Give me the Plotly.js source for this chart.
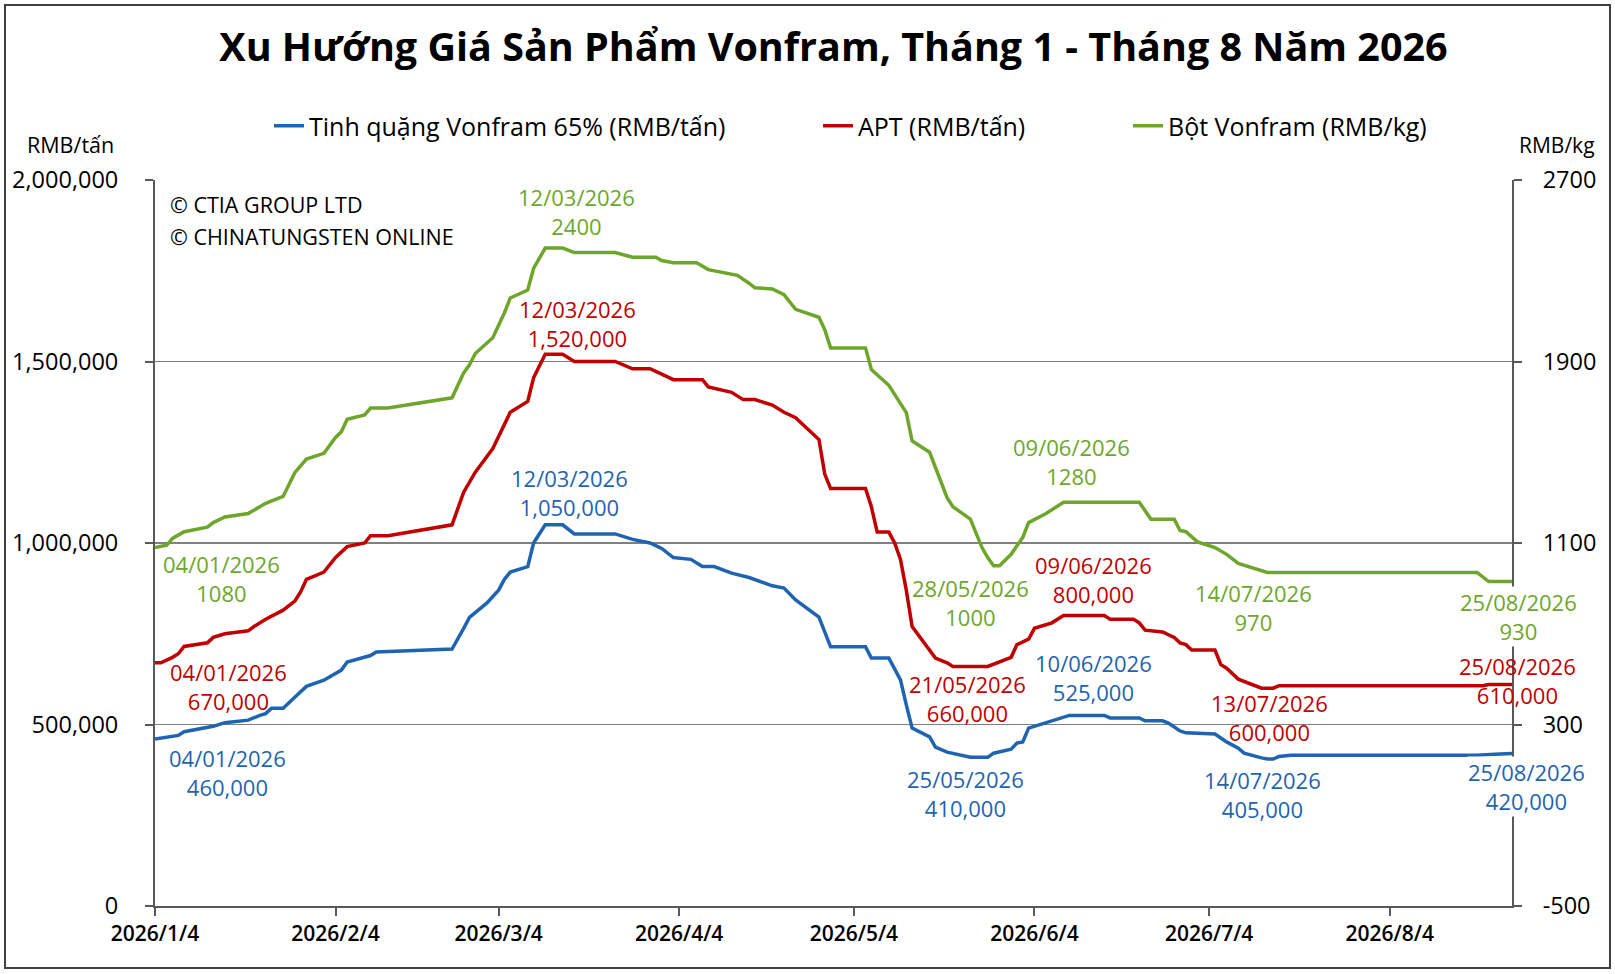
<!DOCTYPE html>
<html>
<head>
<meta charset="utf-8">
<script src="https://cdn.plot.ly/plotly-3.0.1.min.js"></script>
<style>
  html, body { margin: 0; padding: 0; background: #fff; }
  #wrap { position: relative; width: 1615px; height: 974px; }
  #chart { width: 1615px; height: 974px; }
  #frame {
    position: absolute; left: 4px; top: 4px; width: 1603px; height: 961px;
    border: 2px solid #404040; pointer-events: none;
  }
</style>
</head>
<body>
<div id="wrap">
  <div id="chart"></div>
  <div id="frame"></div>
</div>
<script>
// Tinh quặng Vonfram 65% (RMB/tấn)
const oreDates = [
  "2026-01-04","2026-01-06","2026-01-08","2026-01-09","2026-01-12","2026-01-14","2026-01-16","2026-01-20",
  "2026-01-22","2026-01-23","2026-01-24","2026-01-26","2026-01-28","2026-01-30","2026-02-02","2026-02-05",
  "2026-02-06","2026-02-10","2026-02-11","2026-02-24","2026-02-26","2026-02-27","2026-03-02","2026-03-04",
  "2026-03-05","2026-03-06","2026-03-09","2026-03-10","2026-03-12","2026-03-15","2026-03-17","2026-03-24",
  "2026-03-27","2026-03-30","2026-04-01","2026-04-03","2026-04-06","2026-04-08","2026-04-10","2026-04-13",
  "2026-04-16","2026-04-18","2026-04-20","2026-04-22","2026-04-24","2026-04-28","2026-04-30","2026-05-06",
  "2026-05-07","2026-05-10","2026-05-12","2026-05-13","2026-05-14","2026-05-17","2026-05-18","2026-05-20",
  "2026-05-24","2026-05-25","2026-05-27","2026-05-28","2026-05-31","2026-06-01","2026-06-02","2026-06-03",
  "2026-06-06","2026-06-10","2026-06-16","2026-06-17","2026-06-22","2026-06-23","2026-06-26","2026-06-27",
  "2026-06-29","2026-06-30","2026-07-05","2026-07-07","2026-07-09","2026-07-10","2026-07-13","2026-07-14",
  "2026-07-15","2026-07-16","2026-07-18","2026-08-19","2026-08-22","2026-08-25"
];
const oreValues = [
  460000,465000,470000,480000,490000,495000,505000,512000,
  525000,530000,545000,545000,575000,605000,622000,650000,
  672000,690000,700000,708000,765000,795000,835000,870000,
  900000,920000,935000,1000000,1050000,1050000,1025000,1025000,
  1010000,1000000,985000,960000,955000,935000,935000,917000,
  905000,893000,882000,876000,843000,796000,714000,714000,
  683000,683000,623000,554000,490000,466000,438000,424000,
  410000,410000,410000,421000,432000,449000,452000,490000,
  504000,525000,525000,518000,518000,510000,510000,504000,
  482000,477000,474000,452000,435000,421000,408000,405000,
  405000,412000,415000,415000,418000,420000
];

// APT (RMB/tấn)
const aptDates = [
  "2026-01-04","2026-01-05","2026-01-07","2026-01-08","2026-01-09","2026-01-13","2026-01-14","2026-01-16",
  "2026-01-20","2026-01-21","2026-01-23","2026-01-26","2026-01-28","2026-01-29","2026-01-30","2026-02-02",
  "2026-02-04","2026-02-06","2026-02-09","2026-02-10","2026-02-13","2026-02-24","2026-02-26","2026-02-28",
  "2026-03-03","2026-03-05","2026-03-06","2026-03-09","2026-03-10","2026-03-12","2026-03-15","2026-03-17",
  "2026-03-24","2026-03-27","2026-03-30","2026-04-01","2026-04-03","2026-04-08","2026-04-09","2026-04-13",
  "2026-04-15","2026-04-17","2026-04-20","2026-04-22","2026-04-24","2026-04-28","2026-04-29","2026-04-30",
  "2026-05-06","2026-05-07","2026-05-08","2026-05-10","2026-05-11","2026-05-12","2026-05-13","2026-05-14",
  "2026-05-16","2026-05-18","2026-05-20","2026-05-21","2026-05-27","2026-05-31","2026-06-01","2026-06-03",
  "2026-06-04","2026-06-07","2026-06-09","2026-06-16","2026-06-17","2026-06-21","2026-06-22","2026-06-23",
  "2026-06-26","2026-06-28","2026-06-29","2026-06-30","2026-07-01","2026-07-05","2026-07-06","2026-07-07",
  "2026-07-09","2026-07-12","2026-07-13","2026-07-15","2026-07-16","2026-08-20","2026-08-21","2026-08-25"
];
const aptValues = [
  670000,670000,685000,695000,715000,725000,740000,750000,
  758000,770000,790000,815000,840000,865000,900000,920000,
  960000,990000,1000000,1020000,1020000,1050000,1140000,1195000,
  1260000,1330000,1360000,1390000,1455000,1520000,1520000,1500000,
  1500000,1480000,1480000,1465000,1450000,1450000,1430000,1415000,
  1395000,1395000,1380000,1360000,1345000,1285000,1190000,1150000,
  1150000,1100000,1030000,1030000,1000000,955000,870000,770000,
  725000,683000,670000,660000,660000,685000,720000,735000,
  765000,780000,800000,800000,790000,790000,780000,760000,
  755000,740000,725000,720000,705000,705000,665000,655000,
  625000,605000,600000,600000,607000,607000,610000,610000
];

// Bột Vonfram (RMB/kg)
const powderDates = [
  "2026-01-04","2026-01-06","2026-01-07","2026-01-09","2026-01-13","2026-01-14","2026-01-16","2026-01-20",
  "2026-01-22","2026-01-23","2026-01-26","2026-01-28","2026-01-30","2026-02-02","2026-02-04","2026-02-05",
  "2026-02-06","2026-02-09","2026-02-10","2026-02-13","2026-02-24","2026-02-26","2026-02-27","2026-02-28",
  "2026-03-03","2026-03-05","2026-03-06","2026-03-09","2026-03-10","2026-03-12","2026-03-15","2026-03-17",
  "2026-03-24","2026-03-27","2026-03-31","2026-04-01","2026-04-03","2026-04-07","2026-04-09","2026-04-14",
  "2026-04-16","2026-04-17","2026-04-20","2026-04-22","2026-04-24","2026-04-28","2026-04-29","2026-04-30",
  "2026-05-06","2026-05-07","2026-05-10","2026-05-13","2026-05-14","2026-05-17","2026-05-20","2026-05-21",
  "2026-05-24","2026-05-26","2026-05-27","2026-05-28","2026-05-29","2026-05-31","2026-06-02","2026-06-03",
  "2026-06-06","2026-06-09","2026-06-22","2026-06-24","2026-06-28","2026-06-29","2026-06-30","2026-07-02",
  "2026-07-05","2026-07-07","2026-07-09","2026-07-14","2026-08-19","2026-08-21","2026-08-25"
];
const powderValues = [
  1080,1090,1120,1150,1170,1190,1215,1230,
  1260,1275,1305,1410,1470,1495,1565,1590,
  1645,1665,1695,1695,1740,1850,1885,1935,
  2005,2115,2180,2215,2310,2400,2400,2380,
  2380,2360,2360,2345,2335,2335,2305,2280,
  2245,2225,2220,2195,2130,2095,2040,1960,
  1960,1865,1795,1675,1550,1500,1300,1260,
  1205,1080,1035,1000,1000,1050,1125,1190,
  1230,1280,1280,1205,1205,1155,1150,1105,
  1080,1050,1010,970,970,930,930
];

const xTickVals = ["2026-01-04","2026-02-04","2026-03-04","2026-04-04","2026-05-04","2026-06-04","2026-07-04","2026-08-04"];
const xTickText = ["2026/1/4","2026/2/4","2026/3/4","2026/4/4","2026/5/4","2026/6/4","2026/7/4","2026/8/4"];
const leftTicks = [0, 500000, 1000000, 1500000, 2000000];
const rightTicks = [-500, 300, 1100, 1900, 2700];
const rightTickText = ["-500", "300", "1100", "1900", "2700"];

// ngày được ghi nhãn trên từng đường
const oreLabelDates = ["2026-01-04","2026-03-12","2026-05-25","2026-06-10","2026-07-14","2026-08-25"];
const aptLabelDates = ["2026-01-04","2026-03-12","2026-05-21","2026-06-09","2026-07-13","2026-08-25"];
const powderLabelDates = ["2026-01-04","2026-03-12","2026-05-28","2026-06-09","2026-07-14","2026-08-25"];

const BLUE = "#1f64b0";
const RED = "#c00000";
const GREEN = "#6ea62c";
const TEXT_FONT = "Open Sans, Noto Sans, sans-serif";

// độ lệch (px) của nhãn so với điểm dữ liệu, cùng thứ tự với *LabelDates
const oreShift = [[72,-33],[24,32],[-11,-36],[24,38],[-5,-36],[14,-33]];
const aptShift = [[73,-24],[32,31],[15,-32],[30,36],[8,-29],[5,4]];
const powderShift = [[66,-31],[31,37],[-23,-37],[8,41],[-14,-35],[6,-35]];
// nhãn cuối đè lên trục phải -> nền trắng (trừ APT vì nằm ngay trên đường)
const whiteBg = { ore: true, apt: false, powder: true };

function fmtDate(d) {
  const [y, m, day] = d.split("-");
  return `${day}/${m}/${y}`;
}

function buildLabels(dates, values, labelDates, shifts, color, yref, withComma, lastBg) {
  return labelDates.map((d, i) => {
    const v = values[dates.indexOf(d)];
    const txt = withComma ? v.toLocaleString("en-US") : String(v);
    const isLast = i === labelDates.length - 1;
    return {
      x: d, y: v, xref: "x", yref: yref,
      text: `${fmtDate(d)}<br>${txt}`,
      showarrow: false,
      xanchor: "center", yanchor: "middle",
      xshift: shifts[i][0], yshift: shifts[i][1],
      font: { family: TEXT_FONT, size: 22, color: color },
      bgcolor: isLast && lastBg ? "#fff" : "rgba(255,255,255,0)",
      borderpad: 0,
    };
  });
}

const traces = [
  {
    type: "scatter", mode: "lines", name: "Tinh quặng Vonfram 65% (RMB/tấn)",
    x: oreDates, y: oreValues, yaxis: "y", legend: "legend",
    line: { color: BLUE, width: 3.5 }, hoverinfo: "skip",
  },
  {
    type: "scatter", mode: "lines", name: "APT (RMB/tấn)",
    x: aptDates, y: aptValues, yaxis: "y", legend: "legend2",
    line: { color: RED, width: 3.5 }, hoverinfo: "skip",
  },
  {
    type: "scatter", mode: "lines", name: "Bột Vonfram (RMB/kg)",
    x: powderDates, y: powderValues, yaxis: "y2", legend: "legend3",
    line: { color: GREEN, width: 3.5 }, hoverinfo: "skip",
  },
];

const plotW = 1615 - 155 - 103;
const plotH = 974 - 180 - 68;
const px = p => (p - 155) / plotW;
const py = p => (906 - p) / plotH;

function legendAt(xPix) {
  return {
    orientation: "h", x: px(xPix), y: py(126), xanchor: "left", yanchor: "middle",
    bgcolor: "rgba(0,0,0,0)", borderwidth: 0,
    font: { family: TEXT_FONT, size: 25, color: "#000" },
  };
}

const annotations = [
  ...buildLabels(oreDates, oreValues, oreLabelDates, oreShift, BLUE, "y", true, whiteBg.ore),
  ...buildLabels(aptDates, aptValues, aptLabelDates, aptShift, RED, "y", true, whiteBg.apt),
  ...buildLabels(powderDates, powderValues, powderLabelDates, powderShift, GREEN, "y2", false, whiteBg.powder),
  {
    text: "RMB/tấn", xref: "paper", yref: "paper", x: px(70), y: py(145),
    showarrow: false, xanchor: "center", yanchor: "middle",
    font: { family: TEXT_FONT, size: 21.5, color: "#000" },
  },
  {
    text: "RMB/kg", xref: "paper", yref: "paper", x: px(1557), y: py(145),
    showarrow: false, xanchor: "center", yanchor: "middle",
    font: { family: TEXT_FONT, size: 21, color: "#000" },
  },
  {
    text: "© CTIA GROUP LTD", xref: "paper", yref: "paper", x: px(168), y: py(205),
    showarrow: false, xanchor: "left", yanchor: "middle",
    font: { family: TEXT_FONT, size: 21.5, color: "#000" },
  },
  {
    text: "© CHINATUNGSTEN ONLINE", xref: "paper", yref: "paper", x: px(168), y: py(237),
    showarrow: false, xanchor: "left", yanchor: "middle",
    font: { family: TEXT_FONT, size: 21.5, color: "#000" },
  },
];

const axisColor = "#595959";

const layout = {
  width: 1615,
  height: 974,
  margin: { l: 155, r: 103, t: 180, b: 68 },
  paper_bgcolor: "#fff",
  plot_bgcolor: "#fff",
  showlegend: true,
  title: {
    text: "<b>Xu Hướng Giá Sản Phẩm Vonfram, Tháng 1 - Tháng 8 Năm 2026</b>",
    font: { family: TEXT_FONT, size: 39.5, color: "#000" },
    xref: "paper", x: 0.5, xanchor: "center",
    yref: "container", y: 1 - 47 / 974, yanchor: "middle",
  },
  xaxis: {
    type: "date",
    range: ["2026-01-04", "2026-08-25"],
    tickvals: xTickVals, ticktext: xTickText,
    ticks: "outside", ticklen: 8, tickwidth: 2, tickcolor: axisColor,
    showline: true, linecolor: axisColor, linewidth: 2,
    showgrid: false, zeroline: false,
    tickfont: { family: TEXT_FONT, size: 21, color: "#000", weight: 600 },
    fixedrange: true,
  },
  yaxis: {
    range: [0, 2000000],
    tickvals: leftTicks, tickformat: ",",
    ticks: "outside", ticklen: 8, tickwidth: 2, tickcolor: axisColor,
    showline: true, linecolor: axisColor, linewidth: 2,
    showgrid: true, gridcolor: "#808080", gridwidth: 1.5,
    zeroline: false,
    ticklabelstandoff: 22,
    tickfont: { family: TEXT_FONT, size: 23.5, color: "#000" },
    fixedrange: true,
  },
  yaxis2: {
    overlaying: "y", side: "right",
    range: [-500, 2700],
    tickvals: rightTicks, ticktext: rightTickText,
    ticks: "outside", ticklen: 8, tickwidth: 2, tickcolor: axisColor,
    showline: true, linecolor: axisColor, linewidth: 2,
    showgrid: false, zeroline: false,
    ticklabelstandoff: 16,
    tickfont: { family: TEXT_FONT, size: 23.5, color: "#000" },
    fixedrange: true,
  },
  legend: legendAt(269),
  legend2: legendAt(818),
  legend3: legendAt(1128),
  annotations: annotations,
};

Plotly.newPlot("chart", traces, layout, { displayModeBar: false, staticPlot: true });
</script>
</body>
</html>
